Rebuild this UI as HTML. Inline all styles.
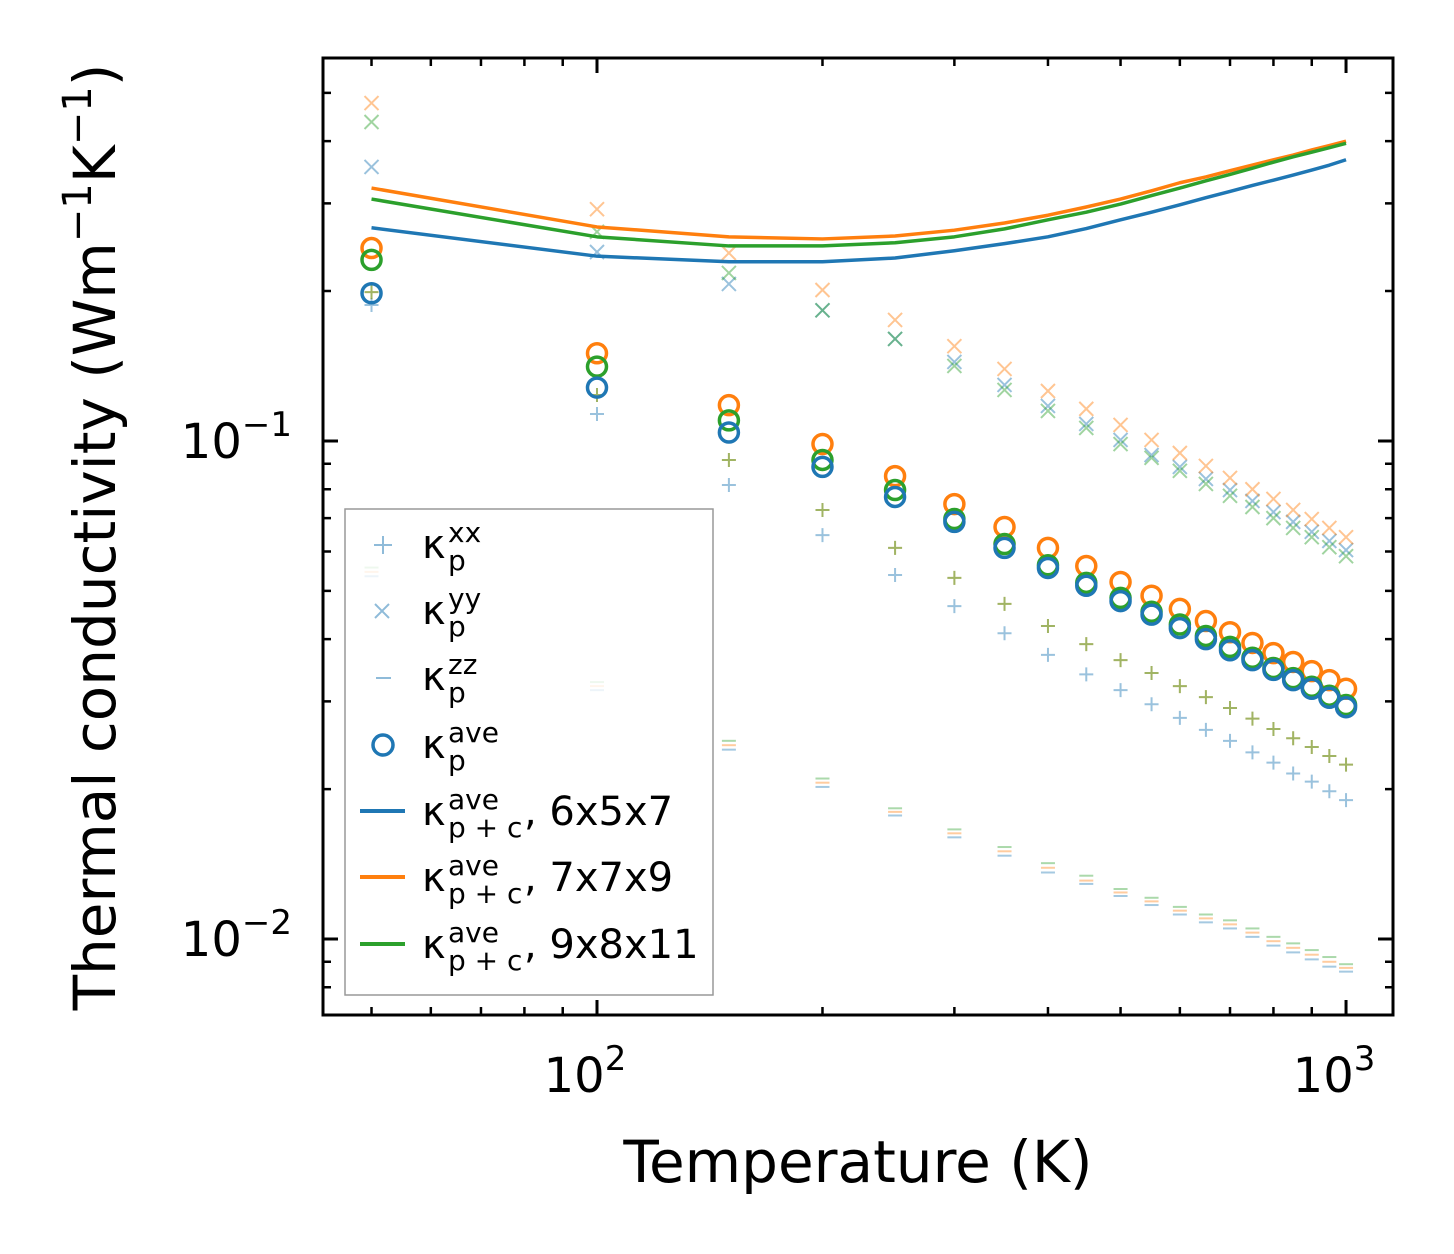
<!DOCTYPE html>
<html><head><meta charset="utf-8"><style>
body{margin:0;background:#fff;}
svg{display:block;font-family:"DejaVu Sans","Liberation Sans",sans-serif;}
</style></head><body>
<svg id="chart" width="1454" height="1254" xmlns="http://www.w3.org/2000/svg">
<rect x="0" y="0" width="1454" height="1254" fill="#fff"/>
<g id="marks"></g>
<g id="axes"></g>
<text x="858" y="1182" font-size="58" text-anchor="middle">Temperature (K)</text>
<text transform="translate(115,537) rotate(-90)" font-size="58" text-anchor="middle">Thermal conductivity (Wm<tspan font-size="40" dy="-24">−1</tspan><tspan dy="24">K</tspan><tspan font-size="40" dy="-24">−1</tspan><tspan dy="24">)</tspan></text>
<g>
<rect x="345" y="509" width="368" height="486" fill="#fff" fill-opacity="0.8" stroke="#999" stroke-width="1.5"/>
<g>
<path d="M374 545h18M383 536v18" stroke="#1f77b4" stroke-opacity="0.5" stroke-width="2"/>
<text x="422" y="558" font-size="40">κ<tspan font-size="28" x="448" y="542">xx</tspan><tspan font-size="28" x="448" y="570">p</tspan></text></g>
<g>
<path d="M375 604l14 14M389 604l-14 14" stroke="#1f77b4" stroke-opacity="0.5" stroke-width="2"/>
<text x="422" y="624" font-size="40">κ<tspan font-size="28" x="448" y="608">yy</tspan><tspan font-size="28" x="448" y="636">p</tspan></text></g>
<g>
<path d="M376 678h15" stroke="#1f77b4" stroke-opacity="0.5" stroke-width="2"/>
<text x="422" y="690" font-size="40">κ<tspan font-size="28" x="448" y="674">zz</tspan><tspan font-size="28" x="448" y="702">p</tspan></text></g>
<g>
<circle cx="383" cy="745" r="10" fill="none" stroke="#1f77b4" stroke-width="3.5"/>
<text x="422" y="758" font-size="40">κ<tspan font-size="28" x="448" y="742">ave</tspan><tspan font-size="28" x="448" y="770">p</tspan></text></g>
<g>
<path d="M360 811h45" stroke="#1f77b4" stroke-width="4"/>
<text x="422" y="825" font-size="40">κ<tspan font-size="28" x="448" y="809">ave</tspan><tspan font-size="28" x="448" y="837">p + c</tspan><tspan font-size="40" x="524" y="825">, 6x5x7</tspan></text></g>
<g>
<path d="M360 877h45" stroke="#ff7f0e" stroke-width="4"/>
<text x="422" y="891" font-size="40">κ<tspan font-size="28" x="448" y="875">ave</tspan><tspan font-size="28" x="448" y="903">p + c</tspan><tspan font-size="40" x="524" y="891">, 7x7x9</tspan></text></g>
<g>
<path d="M360 944h45" stroke="#2ca02c" stroke-width="4"/>
<text x="422" y="958" font-size="40">κ<tspan font-size="28" x="448" y="942">ave</tspan><tspan font-size="28" x="448" y="970">p + c</tspan><tspan font-size="40" x="524" y="958">, 9x8x11</tspan></text></g>
</g>
<g id="front"></g>
</svg>
<script>
const temps=[50,100,150,200,250,300,350,400,450,500,550,600,650,700,750,800,850,900,950,1000];
const lineBlue=[.268,.235,.229,.229,.233,.241,.249,.257,.267,.278,.288,.298,.308,.317,.326,.334,.342,.350,.358,.367];
const lineOrange=[.322,.269,.257,.2545,.258,.265,.274,.284,.295,.306,.318,.330,.339,.349,.358,.367,.375,.384,.392,.400];
const lineGreen=[.306,.257,.2464,.2464,.250,.257,.2666,.278,.288,.299,.311,.322,.333,.343,.353,.363,.372,.380,.388,.396];
const aveBlue=[.198,.128,.104,.0887,.0772,.0688,.061,.0556,.0512,.0477,.0448,.0421,.040,.038,.0363,.0347,.0331,.0318,.0305,.0292];
const aveOrange=[.244,.150,.118,.0986,.085,.0747,.0672,.061,.0561,.0521,.0489,.046,.0435,.0413,.0393,.0375,.036,.0345,.0331,.0318];
const aveGreen=[.231,.141,.110,.0916,.0797,.0697,.0621,.0563,.0519,.0484,.0454,.0428,.0406,.0386,.0367,.035,.0334,.0321,.0308,.0295];
const yyBlue=[.355,.2396,.2067,.183,.1603,.1441,.1296,.1176,.1082,.1005,.0937,.0887,.0839,.0797,.0758,.072,.0688,.0657,.063,.0604];
const yyOrange=[.477,.292,.2385,.201,.175,.155,.1395,.126,.116,.1077,.1005,.0946,.0891,.0843,.080,.0765,.0727,.0697,.0669,.0641];
const yyGreen=[.437,.263,.2175,.183,.1603,.1415,.1266,.1149,.1062,.0986,.0925,.0871,.082,.0776,.0737,.070,.0669,.0641,.0612,.0587];
const xxBlue=[.1875,.1133,.0816,.0647,.0538,.0466,.0411,.0372,.034,.0316,.0296,.0278,.0263,.025,.0237,.0226,.0215,.0207,.0198,.019];
const xxOrange=[.199,.1237,.0916,.0727,.061,.0531,.0471,.0425,.0391,.0363,.0342,.0322,.0306,.0291,.0277,.0264,.0253,.0243,.0233,.0224];
const xxGreen=[.199,.1237,.0916,.0727,.061,.0531,.0471,.0425,.0391,.0363,.0342,.0322,.0306,.0291,.0277,.0264,.0253,.0243,.0233,.0224];
const zzBlue=[.0535,.0316,.024,.0202,.0177,.016,.0147,.0136,.0129,.0122,.0117,.0112,.0108,.0105,.0101,.0097,.0094,.0091,.0088,.0086];
const zzOrange=[.0546,.0322,.0245,.0206,.018,.0163,.015,.0139,.0131,.0124,.0119,.0114,.011,.0107,.0103,.0099,.0096,.0093,.009,.00875];
const zzGreen=[.0557,.0328,.025,.021,.0183,.0166,.0153,.0142,.0134,.0126,.0121,.0116,.0112,.0109,.0105,.0101,.0098,.0095,.0092,.0089];
const xTickVals=[100,1000];
const xTickLabels=["2","3"];
const yTickVals=[0.01,0.1];
const yTickLabels=["−2","−1"];

const L=323,R=1393,T=58,B=1015;
const xmin=1.6342,xmax=3.0627,ymin=-2.1526,ymax=-0.231;
const X=v=>L+(Math.log10(v)-xmin)/(xmax-xmin)*(R-L);
const Y=v=>B-(Math.log10(v)-ymin)/(ymax-ymin)*(B-T);
const NS="http://www.w3.org/2000/svg";
const marks=document.getElementById('marks'),axes=document.getElementById('axes'),front=document.getElementById('front');
function mk(tag,attrs,parent){const e=document.createElementNS(NS,tag);for(const k in attrs)e.setAttribute(k,attrs[k]);parent.appendChild(e);return e;}
const C={b:"#1f77b4",o:"#ff7f0e",g:"#2ca02c"};

[[zzBlue,C.b,'b'],[zzOrange,C.o,'o'],[zzGreen,C.g,'g']].forEach(([arr,col,n])=>{
 const g=mk('g',{},marks);
 
 
 arr.forEach((v,i)=>{const x=X(temps[i]),y=Y(v);
  const p=mk('path',{d:`M${x-7} ${y}h14`,stroke:col,'stroke-opacity':0.4,'stroke-width':2},g);
  
  });
});
[[xxBlue,C.b,'b'],[xxOrange,C.o,'o'],[xxGreen,C.g,'g']].forEach(([arr,col,n])=>{
 const g=mk('g',{},marks);
 
 
 arr.forEach((v,i)=>{const x=X(temps[i]),y=Y(v);
  const p=mk('path',{d:`M${x-7} ${y}h14M${x} ${y-7}v14`,stroke:col,'stroke-opacity':0.45,'stroke-width':2},g);
  
  });
});
[[yyBlue,C.b,'b'],[yyOrange,C.o,'o'],[yyGreen,C.g,'g']].forEach(([arr,col,n])=>{
 const g=mk('g',{},marks);
 
 
 arr.forEach((v,i)=>{const x=X(temps[i]),y=Y(v);
  const p=mk('path',{d:`M${x-7} ${y-7}l14 14M${x+7} ${y-7}l-14 14`,stroke:col,'stroke-opacity':0.45,'stroke-width':2},g);
  
  });
});
[[aveOrange,C.o,'o'],[aveGreen,C.g,'g'],[aveBlue,C.b,'b']].forEach(([arr,col,n])=>{
 const g=mk('g',{},marks);
 
 
 arr.forEach((v,i)=>{
  const c=mk('circle',{cx:X(temps[i]),cy:Y(v),r:9.5,fill:'none',stroke:col,'stroke-width':3.5},g);
  
  });
});
[[lineBlue,C.b,'6x5x7'],[lineOrange,C.o,'7x7x9'],[lineGreen,C.g,'9x8x11']].forEach(([arr,col,n])=>{
 const p=mk('polyline',{points:arr.map((v,i)=>X(temps[i])+','+Y(v)).join(' '),fill:'none',stroke:col,'stroke-width':3.5,'stroke-linejoin':'round'},marks);
 
 
});

const fr=mk('rect',{x:L,y:T,width:R-L,height:B-T,fill:'none',stroke:'#000','stroke-width':3},front);


function tickPath(d,w){const p=mk('path',{d:d,stroke:'#000','stroke-width':w},front);}
for(let e=1;e<=3;e++)for(let m=1;m<10;m++){const v=m*Math.pow(10,e);const lv=Math.log10(v);if(lv<xmin||lv>xmax)continue;
 const x=X(v),len=m===1?15:8;tickPath(`M${x} ${B}v${-len}M${x} ${T}v${len}`,m===1?3:2.5);}
for(let e=-3;e<=0;e++)for(let m=1;m<10;m++){const v=m*Math.pow(10,e);const lv=Math.log10(v);if(lv<ymin||lv>ymax)continue;
 const y=Y(v),len=m===1?15:8;tickPath(`M${L} ${y}h${len}M${R} ${y}h${-len}`,m===1?3:2.5);}
xTickVals.forEach((v,i)=>{const t=mk('text',{x:X(v)-12,y:1092,'font-size':48,'text-anchor':'middle'},axes);t.textContent='10';
 const s=mk('tspan',{dy:-22,'font-size':34},t);s.textContent=xTickLabels[i];
 });
yTickVals.forEach((v,i)=>{const t=mk('text',{x:292,y:Y(v)+17,'font-size':48,'text-anchor':'end'},axes);t.textContent='10';
 const s=mk('tspan',{dy:-22,'font-size':34},t);s.textContent=yTickLabels[i];
 });
</script>
</body></html>
